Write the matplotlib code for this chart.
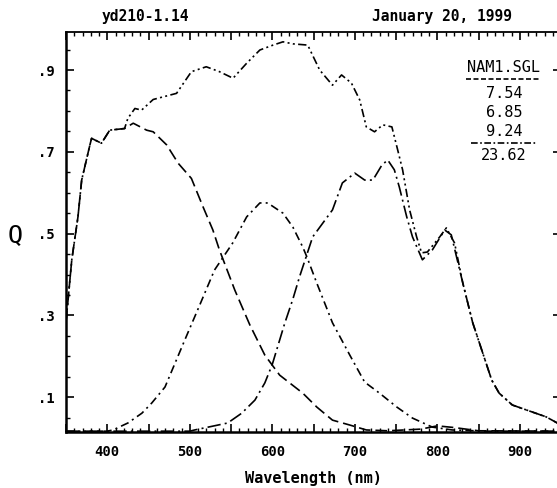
import matplotlib
matplotlib.use("Agg")
import matplotlib.pyplot as plt
from matplotlib.ticker import MultipleLocator, FixedLocator, FuncFormatter
from matplotlib.lines import Line2D

# curvas (comprimento de onda em nm, Q)
total_nm = [350, 357, 364.5, 369, 379, 381, 393, 403, 421, 425, 433.5, 441.6, 455.7, 484, 502, 520,
            536, 552.5, 568.7, 585, 601, 613, 625, 643, 657.5, 673, 684, 696, 706, 714, 724, 734,
            745, 752, 758, 766.5, 775, 781, 788, 803, 811, 821, 831, 843, 866, 875, 891, 915, 932, 950]
total_q = [0.284, 0.436, 0.541, 0.631, 0.717, 0.733, 0.721, 0.753, 0.757, 0.782, 0.806, 0.802, 0.828,
           0.843, 0.896, 0.908, 0.896, 0.880, 0.916, 0.949, 0.961, 0.969, 0.964, 0.961, 0.900, 0.863,
           0.888, 0.868, 0.827, 0.761, 0.749, 0.766, 0.761, 0.705, 0.656, 0.558, 0.492, 0.453, 0.455,
           0.492, 0.514, 0.477, 0.379, 0.282, 0.142, 0.110, 0.081, 0.064, 0.052, 0.032]

azul_nm = [350, 357, 364.5, 369, 379, 381, 393, 403, 421, 431.5, 447.7, 455.7, 472, 486, 502, 516,
           528, 536, 554.6, 572.8, 591, 609, 637, 654, 673, 694, 714, 740, 780, 800, 820, 850, 950]
azul_q = [0.284, 0.436, 0.541, 0.631, 0.717, 0.733, 0.721, 0.753, 0.757, 0.770, 0.753, 0.749, 0.717,
          0.672, 0.635, 0.566, 0.509, 0.460, 0.362, 0.277, 0.203, 0.154, 0.110, 0.076, 0.044, 0.032,
          0.020, 0.018, 0.022, 0.030, 0.026, 0.018, 0.017]

verde_nm = [350, 400, 407, 425, 442, 454, 470, 494, 512, 530, 552, 569, 585, 594.5, 613, 625, 637,
            642, 654, 673, 694, 712, 730, 751, 770, 794, 818, 860, 950]
verde_q = [0.017, 0.017, 0.020, 0.037, 0.061, 0.086, 0.125, 0.240, 0.325, 0.411, 0.477, 0.541, 0.575,
           0.575, 0.550, 0.516, 0.467, 0.443, 0.379, 0.282, 0.203, 0.137, 0.110, 0.076, 0.049, 0.027,
           0.020, 0.017, 0.017]

vermelho_nm = [350, 500, 506, 546, 563, 579, 591, 600, 615, 625, 633, 649, 673, 685, 700, 712, 722,
               733, 740, 748, 754, 763, 770, 782, 794, 809, 817, 831, 843, 866, 875, 891, 915, 932, 950]
vermelho_q = [0.017, 0.017, 0.020, 0.037, 0.061, 0.093, 0.135, 0.180, 0.280, 0.340, 0.394, 0.492,
              0.558, 0.624, 0.648, 0.631, 0.631, 0.668, 0.680, 0.656, 0.614, 0.541, 0.492, 0.436,
              0.460, 0.509, 0.497, 0.379, 0.282, 0.142, 0.110, 0.081, 0.064, 0.052, 0.032]

rotulos_y = [0.1, 0.3, 0.5, 0.7, 0.9]
titulo_esq = "yd210-1.14"
titulo_dir = "January 20, 1999"
legenda_titulo = "NAM1.SGL"
legenda_valores = ["7.54", "6.85", "9.24"]
legenda_total = "23.62"

fonte = "DejaVu Sans Mono"

fig = plt.figure(figsize=(5.57, 4.88), dpi=100)
ax = fig.add_axes([66 / 557, 56 / 488, 495 / 557, 400 / 488])

ax.plot(total_nm, total_q, color="black", lw=1.2, dashes=(5, 2, 1.2, 2, 1.2, 2))
ax.plot(azul_nm, azul_q, color="black", lw=1.2, dashes=(7, 3))
ax.plot(verde_nm, verde_q, color="black", lw=1.2, dashes=(5, 2.5, 1.2, 2.5))
ax.plot(vermelho_nm, vermelho_q, color="black", lw=1.2, dashes=(8, 2.5, 1.2, 2.5))

ax.set_xlim(350, 950)
ax.set_ylim(0.015, 0.993)

ax.xaxis.set_major_locator(MultipleLocator(50))
ax.xaxis.set_minor_locator(MultipleLocator(10))
ax.xaxis.set_major_formatter(FuncFormatter(lambda v, p: f"{v:.0f}" if round(v) % 100 == 0 else ""))
ax.yaxis.set_major_locator(FixedLocator(rotulos_y))
ax.yaxis.set_minor_locator(MultipleLocator(0.05))
ax.yaxis.set_major_formatter(FuncFormatter(lambda v, p: f"{v:.1f}".lstrip("0")))

ax.tick_params(which="both", direction="in", top=True, right=True, color="black")
ax.tick_params(which="major", length=6, width=1.2)
ax.tick_params(which="minor", length=3, width=1.0)
ax.tick_params(axis="x", pad=9)
ax.tick_params(axis="y", pad=8)
for lab in ax.get_xticklabels() + ax.get_yticklabels():
    lab.set_fontfamily(fonte)
    lab.set_fontsize(10)
    lab.set_fontweight("bold")

for lado in ["left", "bottom"]:
    ax.spines[lado].set_linewidth(1.8)
for lado in ["top", "right"]:
    ax.spines[lado].set_linewidth(1.3)

ax.set_xlabel("Wavelength (nm)", fontfamily=fonte, fontsize=11, fontweight="bold", labelpad=9)
fig.text(15 / 557, 1 - 235 / 488, "Q", fontfamily=fonte, fontsize=18, ha="center", va="center")

fig.text(145 / 557, 1 - 16 / 488, titulo_esq, fontfamily=fonte, fontsize=10.5, fontweight="bold",
         ha="center", va="center")
fig.text(442 / 557, 1 - 16 / 488, titulo_dir, fontfamily=fonte, fontsize=10.5, fontweight="bold",
         ha="center", va="center")

cx = 504 / 557
fig.text(cx, 1 - 67 / 488, legenda_titulo, fontfamily=fonte, fontsize=11, ha="center", va="center")
for i, v in enumerate(legenda_valores):
    fig.text(cx, 1 - (93 + 19.5 * i) / 488, v, fontfamily=fonte, fontsize=11, ha="center", va="center")
fig.text(cx, 1 - 156 / 488, legenda_total, fontfamily=fonte, fontsize=11, ha="center", va="center")
fig.add_artist(Line2D([466 / 557, 541 / 557], [1 - 79 / 488] * 2, transform=fig.transFigure,
                      color="black", lw=1.2, dashes=(3, 1.5)))
fig.add_artist(Line2D([471 / 557, 537 / 557], [1 - 143 / 488] * 2, transform=fig.transFigure,
                      color="black", lw=1.2, dashes=(4, 1.5, 1, 1.5)))

fig.savefig("out.png", dpi=100)
